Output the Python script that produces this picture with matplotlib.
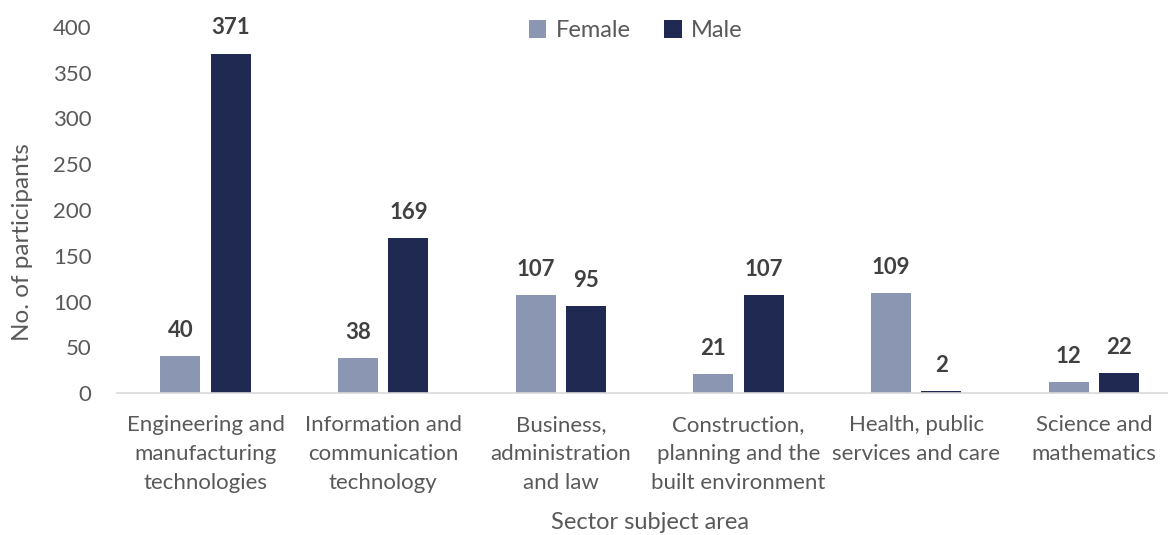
import matplotlib
matplotlib.use('Agg')
from matplotlib import pyplot as plt
import numpy as np

plt.rcParams['font.family'] = ['Lato', 'DejaVu Sans']

categories = ['Engineering and\nmanufacturing\ntechnologies',
              'Information and\ncommunication\ntechnology',
              'Business,\nadministration\nand law',
              'Construction,\nplanning and the\nbuilt environment',
              'Health, public\nservices and care',
              'Science and\nmathematics']
female = [40, 38, 107, 21, 109, 12]
male = [371, 169, 95, 107, 2, 22]

female_color = '#8b96b3'
male_color = '#1f2951'
text_color = '#595959'
label_color = '#404040'

fig = plt.figure(figsize=(11.68, 5.35), dpi=100)
ax = fig.add_axes([116.7 / 1168, 142 / 535, 1066 / 1168, 366 / 535])

x = np.arange(len(categories))
w = 0.225
off = 0.142
b1 = ax.bar(x - off, female, w, color=female_color, label='Female')
b2 = ax.bar(x + off, male, w, color=male_color, label='Male')

for bars in (b1, b2):
    for rect in bars:
        h = rect.get_height()
        ax.annotate(f'{int(h)}', (rect.get_x() + rect.get_width() / 2, h),
                    xytext=(0, 18.5), textcoords='offset points',
                    ha='center', va='center', fontsize=16,
                    fontweight='bold', color=label_color)

ax.set_xlim(-0.5, len(categories) - 0.5)
ax.set_ylim(0, 400)
ax.set_yticks(range(0, 401, 50))
ax.set_xticks(x)
ax.set_xticklabels(categories, fontsize=16, color=text_color, linespacing=1.55)
ax.tick_params(axis='y', labelsize=16, labelcolor=text_color, length=0, pad=18)
ax.tick_params(axis='x', length=0, pad=16)

for side in ('top', 'right', 'left'):
    ax.spines[side].set_visible(False)
ax.spines['bottom'].set_color('#d9d9d9')
ax.spines['bottom'].set_linewidth(1.2)

ax.set_ylabel('No. of participants', fontsize=17.5, color=text_color, va='center')
ax.yaxis.set_label_coords(-0.088, 0.413)
ax.set_xlabel('Sector subject area', fontsize=17, color=text_color, va='center')
ax.xaxis.set_label_coords(0.5, -0.353)

leg = ax.legend(loc='center', bbox_to_anchor=(519 / 1066, 0.99), ncol=2,
                frameon=False, fontsize=17, handlelength=0.75, handleheight=0.75,
                handletextpad=0.4, columnspacing=1.4)
for t in leg.get_texts():
    t.set_color(text_color)

fig.savefig('out.png', dpi=100)
